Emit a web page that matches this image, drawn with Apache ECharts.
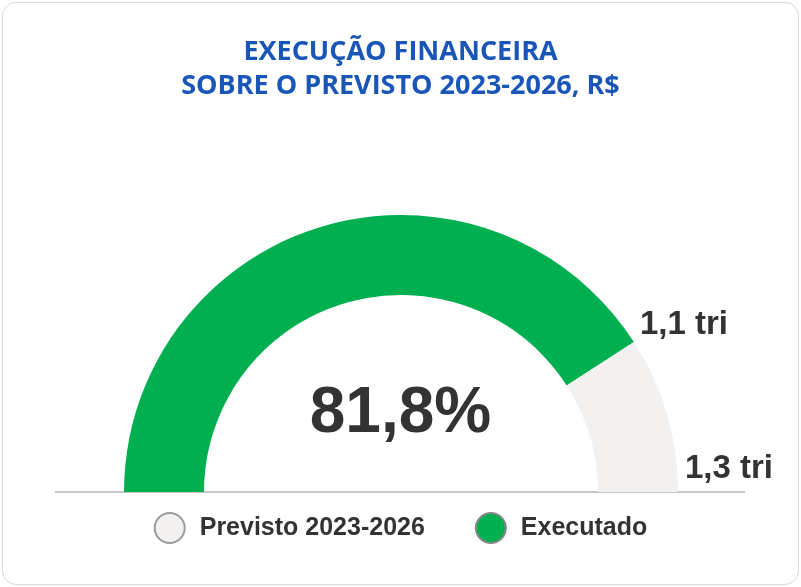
<!DOCTYPE html>
<html>
<head>
<meta charset="utf-8">
<script src="https://cdn.jsdelivr.net/npm/echarts@6/dist/echarts.min.js"></script>
<style>
html,body{margin:0;padding:0;background:#fff;}
#box{position:absolute;left:2px;top:2px;width:795px;height:581px;border:1px solid #d9d9d9;border-radius:14px;}
#chart{width:801px;height:587px;}
</style>
</head>
<body>
<div id="box"></div>
<div id="chart"></div>
<script>
// dados
const titleLines = ['EXECUÇÃO FINANCEIRA', 'SOBRE O PREVISTO 2023-2026, R$'];
const categories = ['Executado', 'Previsto 2023-2026'];
const percentLabel = '81,8%';
const pctExec = 81.8;
const valueLabels = ['1,1 tri', '1,3 tri'];

let chart = echarts.init(document.getElementById('chart'));
let option = {
    backgroundColor: 'transparent',
    title: {
        text: titleLines.join('\n'),
        left: 'center',
        top: 30,
        textStyle: {
            color: '#1a56b8',
            fontSize: 27,
            fontWeight: 'bold',
            fontFamily: 'Open Sans',
            lineHeight: 34
        }
    },
    legend: {
        data: [
            { name: 'Previsto 2023-2026', itemStyle: { color: '#f2f1ef', borderColor: '#9a9a9a', borderWidth: 2 } },
            { name: 'Executado', itemStyle: { color: '#00b050', borderColor: '#888', borderWidth: 2 } }
        ],
        bottom: 38,
        left: 'center',
        icon: 'circle',
        itemWidth: 30,
        itemHeight: 30,
        itemGap: 50,
        textStyle: { fontSize: 25, fontWeight: 'bold', color: '#333', fontFamily: 'Liberation Sans', padding: [0, 0, 0, 10] }
    },
    graphic: [
        { type: 'line', shape: { x1: 55, y1: 492, x2: 745, y2: 492 }, style: { stroke: '#c8c8c8', lineWidth: 2 } },
        { type: 'text', left: 'center', top: 382, style: { text: percentLabel, fontSize: 64, fontWeight: 'bold', fill: '#333', fontFamily: 'Liberation Sans' } },
        { type: 'text', left: 640, top: 308, style: { text: valueLabels[0], fontSize: 33, fontWeight: 'bold', fill: '#333', fontFamily: 'Liberation Sans' } },
        { type: 'text', left: 685, top: 452, style: { text: valueLabels[1], fontSize: 33, fontWeight: 'bold', fill: '#333', fontFamily: 'Liberation Sans' } }
    ],
    series: [{
        type: 'pie',
        center: [401, 492],
        radius: [197, 277],
        startAngle: 180,
        silent: true,
        label: { show: false },
        labelLine: { show: false },
        data: [
            { name: categories[0], value: pctExec, itemStyle: { color: '#00b050' } },
            { name: categories[1], value: 100 - pctExec, itemStyle: { color: '#f2f1ef' } },
            { name: '', value: 100, itemStyle: { color: 'transparent' } }
        ]
    }]
};
chart.setOption(option);
</script>
</body>
</html>
